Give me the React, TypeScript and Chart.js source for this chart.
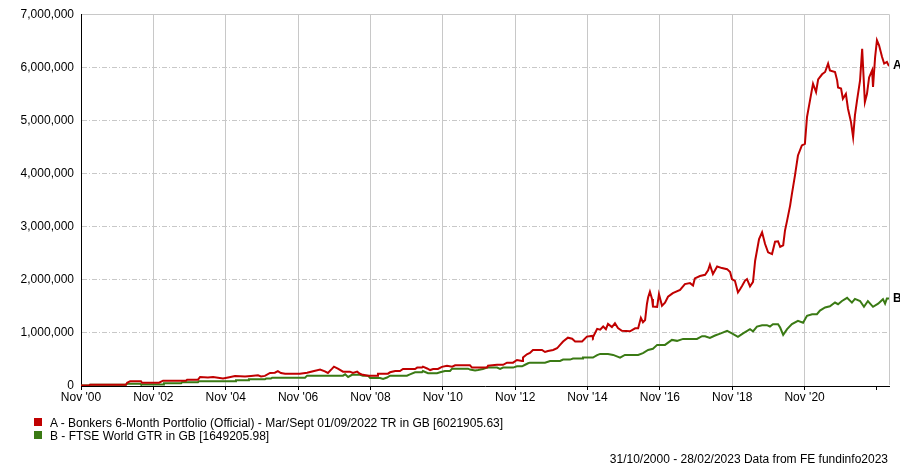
import React, { useEffect, useRef } from 'react';
import { Chart, registerables } from 'chart.js';

Chart.register(...registerables);

// x values are months since 31/10/2000 (Nov '00 = 0, 28/02/2023 = 268); y values in millions of GBP
const tickMonths = [0, 24, 48, 72, 96, 120, 144, 168, 192, 216, 240, 264];
const tickLabels = ["Nov '00", "Nov '02", "Nov '04", "Nov '06", "Nov '08", "Nov '10", "Nov '12", "Nov '14", "Nov '16", "Nov '18", "Nov '20", ""];
const yTicks = [0, 1000000, 2000000, 3000000, 4000000, 5000000, 6000000, 7000000];

const seriesNames = [
  'A - Bonkers 6-Month Portfolio (Official) - Mar/Sept 01/09/2022 TR in GB [6021905.63]',
  'B - FTSE World GTR in GB [1649205.98]',
];
const endLabels = ['A', 'B'];
const seriesColors = ['#c00000', '#3a7a14'];

const aPoints: [number, number][] = [
  [0, 0.01], [2.7, 0.01], [3, 0.025], [14.9, 0.025], [15.3, 0.062], [16.3, 0.088], [19.9, 0.088], [20.2, 0.062],
  [25.9, 0.062], [27.2, 0.1], [34.8, 0.1], [35.2, 0.12], [38.8, 0.12], [39.5, 0.17], [42.1, 0.16], [43.8, 0.17],
  [47.1, 0.14], [48.8, 0.16], [51.1, 0.19], [54.4, 0.18], [56.4, 0.19], [58.7, 0.2], [59.7, 0.18], [61, 0.19],
  [62.7, 0.245], [64.3, 0.25], [65.3, 0.28], [66.3, 0.245], [67.7, 0.23], [72.6, 0.232], [75, 0.25], [77, 0.277],
  [79.3, 0.31], [80.9, 0.277], [81.9, 0.245], [83.3, 0.327], [83.9, 0.364], [85.2, 0.327], [86.9, 0.27], [89.2, 0.27],
  [90.2, 0.245], [91.6, 0.27], [92.5, 0.23], [93.5, 0.21], [95.2, 0.195], [98.2, 0.195], [98.5, 0.232], [101.8, 0.232],
  [102.5, 0.258], [104.2, 0.283], [105.8, 0.283], [106.8, 0.32], [110.8, 0.32], [111.5, 0.346], [113.1, 0.346],
  [113.4, 0.364], [114.8, 0.33], [115.8, 0.3], [116.8, 0.32], [118.4, 0.32], [119.7, 0.36], [121.4, 0.383],
  [123.1, 0.364], [124.1, 0.39], [129, 0.39], [129.7, 0.346], [134.7, 0.346], [135, 0.383], [138, 0.4], [140, 0.4],
  [141.3, 0.44], [143.3, 0.44], [144.6, 0.49], [146.3, 0.47], [146.6, 0.535], [147.9, 0.597], [148.9, 0.623],
  [149.9, 0.679], [152.9, 0.679], [153.9, 0.64], [154.9, 0.66], [156.6, 0.679], [157.9, 0.71], [158.9, 0.774],
  [159.9, 0.836], [161.5, 0.91], [162.9, 0.89], [163.9, 0.84], [166.2, 0.84], [167.8, 0.93], [169.5, 0.943],
  [169.8, 0.918], [171.2, 1.075], [172.2, 1.06], [173.2, 1.12], [174.1, 1.07], [174.8, 1.17], [176.1, 1.11],
  [177.1, 1.18], [178.1, 1.09], [179.4, 1.04], [182.1, 1.03], [183.8, 1.087], [184.8, 1.087], [185.7, 1.283],
  [186.4, 1.2], [187.1, 1.24], [187.7, 1.54], [188.1, 1.667], [188.7, 1.774], [189.4, 1.64], [189.7, 1.497],
  [191.1, 1.49], [191.7, 1.73], [192.7, 1.509], [193.7, 1.57], [194.7, 1.68], [196.3, 1.749], [198.7, 1.81],
  [200.3, 1.918], [202, 1.937], [203, 1.893], [203.6, 2.025], [205.3, 2.07], [207, 2.094], [208, 2.18],
  [208.6, 2.283], [209.6, 2.107], [211, 2.25], [212.6, 2.22], [214.3, 2.2], [215.3, 2.145], [215.9, 2.013],
  [216.9, 1.98], [217.9, 1.761], [218.6, 1.82], [219.3, 1.887], [220.2, 1.98], [220.9, 2.013], [221.9, 1.874],
  [222.9, 1.962], [223.6, 2.358], [224.2, 2.547], [224.9, 2.767], [225.9, 2.893], [226.9, 2.673], [227.9, 2.516],
  [229.2, 2.484], [230.2, 2.717], [231.2, 2.723], [231.9, 2.62], [232.9, 2.65], [233.5, 2.925], [234.2, 3.113],
  [235.2, 3.396], [235.8, 3.616], [236.8, 3.962], [237.8, 4.34], [239.1, 4.528], [240.1, 4.56], [240.8, 5.063],
  [241.5, 5.283], [242.5, 5.598], [242.8, 5.69], [243.8, 5.535], [244.5, 5.774], [245.8, 5.868], [246.8, 5.912],
  [247.8, 6.07], [248.4, 5.943], [250.1, 5.912], [250.8, 5.755], [251.1, 5.62], [252.1, 5.6], [252.7, 5.409],
  [253.7, 5.5], [254.4, 5.22], [255.4, 4.968], [256.1, 4.685], [256.7, 5.094], [257.4, 5.377], [258.4, 5.755],
  [259.1, 6.35], [259.4, 6.006], [260, 5.345], [260.7, 5.5], [261.4, 5.81], [262.4, 5.943], [262.7, 5.63],
  [263.4, 6.194], [264, 6.509], [264.7, 6.415], [265.7, 6.195], [266.4, 6.07], [267.3, 6.1], [268, 6.022],
];

const bPoints: [number, number][] = [
  [0, 0.01], [2.7, 0.01], [3, 0.025], [14.9, 0.025], [15.3, 0.044], [19.6, 0.044], [19.9, 0.03], [27.2, 0.03],
  [27.5, 0.05], [33.2, 0.05], [33.5, 0.07], [38.8, 0.07], [39.1, 0.088], [51.1, 0.088], [51.4, 0.107], [55.4, 0.107],
  [55.7, 0.126], [61, 0.126], [61.4, 0.14], [63, 0.14], [63.4, 0.157], [74.3, 0.157], [75, 0.195], [86.9, 0.195],
  [87.6, 0.22], [88.6, 0.17], [89.9, 0.21], [92.5, 0.21], [93.5, 0.195], [95.2, 0.195], [95.9, 0.151], [99.2, 0.151],
  [100.2, 0.132], [101.5, 0.16], [102.5, 0.195], [108.1, 0.195], [109.1, 0.22], [110.8, 0.258], [113.1, 0.258],
  [113.4, 0.283], [115.1, 0.24], [118.1, 0.24], [119.1, 0.258], [120.7, 0.283], [122.4, 0.283], [123.1, 0.327],
  [128.4, 0.327], [129, 0.31], [130.7, 0.29], [131.7, 0.3], [133.3, 0.32], [134.7, 0.346], [138, 0.346], [139, 0.32],
  [140, 0.346], [143.3, 0.346], [144.6, 0.37], [146.3, 0.37], [147.3, 0.4], [148.3, 0.428], [148.9, 0.44],
  [153.9, 0.44], [155.6, 0.472], [158.9, 0.472], [159.9, 0.497], [162.2, 0.497], [163.2, 0.516], [166.2, 0.516],
  [166.5, 0.535], [169.8, 0.535], [171.2, 0.58], [172.2, 0.604], [174.8, 0.604], [176.5, 0.585], [178.8, 0.535],
  [180.4, 0.585], [184.8, 0.585], [186.4, 0.62], [188.1, 0.679], [189.7, 0.7], [191.1, 0.774], [193.7, 0.774],
  [196, 0.868], [197.7, 0.85], [199.7, 0.887], [204.3, 0.887], [206, 0.937], [207, 0.937], [208.6, 0.905],
  [210.3, 0.95], [212, 0.987], [214.3, 1.038], [215.9, 0.99], [217.9, 0.925], [219.6, 0.99], [221.9, 1.069],
  [222.9, 1.03], [224.2, 1.12], [225.9, 1.145], [227.5, 1.145], [228.5, 1.12], [229.5, 1.164], [231.2, 1.164],
  [231.9, 1.1], [232.9, 0.962], [234.2, 1.07], [235.8, 1.164], [237.8, 1.226], [239.5, 1.19], [240.8, 1.321],
  [242.5, 1.352], [244.1, 1.352], [245.1, 1.42], [246.8, 1.478], [248.4, 1.5], [250.1, 1.572], [251.1, 1.54],
  [252.4, 1.6], [254.1, 1.66], [255.7, 1.57], [256.7, 1.64], [258.4, 1.6], [259.7, 1.491], [261, 1.6],
  [262.7, 1.491], [264.4, 1.55], [266, 1.635], [266.7, 1.55], [267.3, 1.647], [268, 1.649],
];

const footerText = '31/10/2000 - 28/02/2023 Data from FE fundinfo2023';

const FONT = '"Liberation Sans", Arial, Helvetica, sans-serif';

const framePlugin = {
  id: 'frameAndEndLabels',
  beforeDatasetsDraw(chart: any) {
    const { ctx, chartArea } = chart;
    const { left, right, top, bottom } = chartArea;
    ctx.save();
    ctx.strokeStyle = '#c8c8c8';
    ctx.lineWidth = 1;
    ctx.setLineDash([]);
    ctx.beginPath();
    ctx.moveTo(left + 1, Math.round(top) + 0.5);
    ctx.lineTo(Math.round(right) + 0.5, Math.round(top) + 0.5);
    ctx.lineTo(Math.round(right) + 0.5, bottom - 1);
    ctx.stroke();
    ctx.restore();
  },
  afterDatasetsDraw(chart: any) {
    const { ctx } = chart;
    ctx.save();
    ctx.font = 'bold 12px ' + FONT;
    ctx.fillStyle = '#000';
    ctx.textBaseline = 'middle';
    ctx.textAlign = 'left';
    chart.data.datasets.forEach((_ds: any, i: number) => {
      const meta = chart.getDatasetMeta(i);
      const pt = meta.data[meta.data.length - 1];
      if (pt) ctx.fillText(endLabels[i], pt.x + 4, pt.y);
    });
    ctx.restore();
  },
};

export default function App() {
  const canvasRef = useRef<HTMLCanvasElement | null>(null);

  useEffect(() => {
    if (!canvasRef.current) return;
    const toXY = (pts: [number, number][]) => pts.map(([m, v]) => ({ x: m, y: v * 1000000 }));
    const chart = new Chart(canvasRef.current, {
      type: 'line',
      data: {
        datasets: [
          {
            label: seriesNames[0],
            data: toXY(aPoints),
            borderColor: seriesColors[0],
            backgroundColor: seriesColors[0],
            borderWidth: 2,
            pointRadius: 0,
            tension: 0,
          },
          {
            label: seriesNames[1],
            data: toXY(bPoints),
            borderColor: seriesColors[1],
            backgroundColor: seriesColors[1],
            borderWidth: 2,
            pointRadius: 0,
            tension: 0,
          },
        ],
      },
      options: {
        animation: false,
        responsive: false,
        devicePixelRatio: 1,
        layout: { padding: { left: 0, right: 11, top: 14, bottom: 0 } },
        plugins: {
          legend: { display: false },
          tooltip: { enabled: false },
          title: { display: false },
        },
        scales: {
          x: {
            type: 'linear',
            min: 0,
            max: 268,
            afterBuildTicks: (scale: any) => {
              scale.ticks = tickMonths.map((v) => ({ value: v }));
            },
            afterFit: (scale: any) => {
              scale.height = 81;
            },
            grid: {
              color: (c: any) => (c.tick && (c.tick.value === 0 || c.tick.value === 264) ? 'rgba(0,0,0,0)' : '#c8c8c8'),
              lineWidth: 1,
              drawTicks: true,
              tickLength: 4,
              tickColor: '#000',
            },
            border: { display: true, color: '#000', width: 1 },
            ticks: {
              autoSkip: false,
              maxRotation: 0,
              padding: 0,
              color: '#000',
              font: { family: FONT, size: 12 },
              callback: (value: any) => {
                const i = tickMonths.indexOf(Number(value));
                return i >= 0 ? tickLabels[i] : '';
              },
            },
          },
          y: {
            type: 'linear',
            min: 0,
            max: 7000000,
            afterBuildTicks: (scale: any) => {
              scale.ticks = yTicks.map((v) => ({ value: v }));
            },
            afterFit: (scale: any) => {
              scale.width = 81;
            },
            grid: {
              color: (c: any) => (c.tick && c.tick.value === 0 ? 'rgba(0,0,0,0)' : '#c8c8c8'),
              lineWidth: 1,
              drawTicks: false,
            },
            border: { display: true, color: '#000', width: 1, dash: [5, 2, 1, 2] },
            ticks: {
              padding: 7,
              color: '#000',
              font: { family: FONT, size: 12 },
              callback: (value: any) => Number(value).toLocaleString('en-GB'),
            },
          },
        },
      },
      plugins: [framePlugin],
    } as any);
    return () => chart.destroy();
  }, []);

  const textStyle: React.CSSProperties = {
    position: 'absolute',
    fontFamily: FONT,
    fontSize: 12,
    lineHeight: '14px',
    color: '#000',
    whiteSpace: 'nowrap',
  };

  return (
    <div style={{ position: 'absolute', left: 0, top: 0, width: 900, height: 467, background: '#fff' }}>
      <canvas ref={canvasRef} width={900} height={467} style={{ display: 'block', width: 900, height: 467 }} />
      {seriesNames.map((name, i) => (
        <React.Fragment key={name}>
          <div
            style={{
              position: 'absolute',
              left: 34,
              top: 418 + i * 13,
              width: 8,
              height: 8,
              background: seriesColors[i],
            }}
          />
          <div style={{ ...textStyle, left: 50, top: 416 + i * 13 }}>{name}</div>
        </React.Fragment>
      ))}
      <div style={{ ...textStyle, right: 12, top: 452 }}>{footerText}</div>
    </div>
  );
}
